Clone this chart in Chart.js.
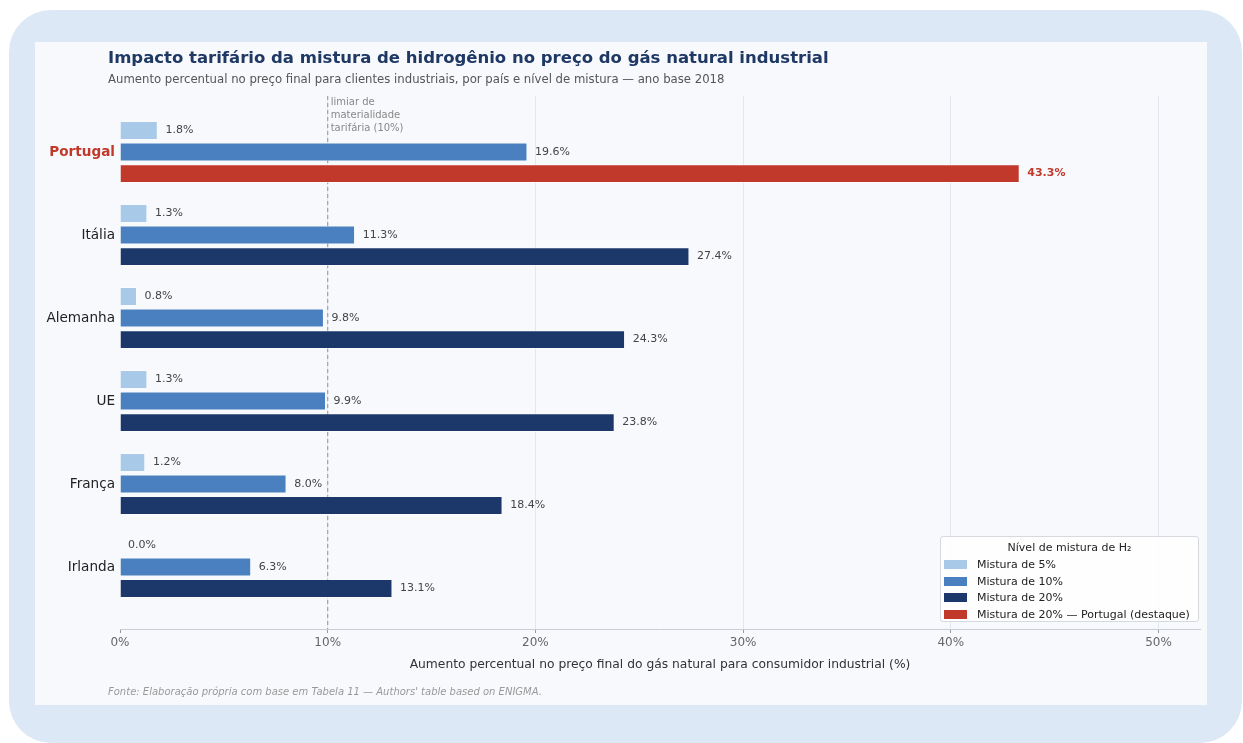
<!DOCTYPE html>
<html>
<head>
<meta charset="utf-8">
<script src="https://cdn.jsdelivr.net/npm/chart.js@4.4.1/dist/chart.umd.min.js"></script>
<style>
  html, body { margin: 0; padding: 0; background: #fff; }
  body { width: 1243px; height: 743px; position: relative; overflow: hidden; font-family: "DejaVu Sans", sans-serif; }
  .outer { position: absolute; left: 9px; top: 10px; width: 1233px; height: 733px; background: #dce8f6; border-radius: 42px; }
  .panel { position: absolute; left: 35px; top: 42px; width: 1172px; height: 663px; background: #f7f9fc; }
  #wrap { position: absolute; left: 0; top: 0; width: 1243px; height: 743px; }
  .title { position: absolute; left: 108px; top: 48px; font-size: 16.5px; font-weight: bold; color: #1f3864; white-space: nowrap; }
  .sub { position: absolute; left: 108px; top: 72px; font-size: 11.7px; color: #555; white-space: nowrap; }
  .foot { position: absolute; left: 108px; top: 686px; font-size: 10px; font-style: italic; color: #999; white-space: nowrap; }
  .legend { position: absolute; left: 940px; top: 536px; width: 259px; height: 86px; background: rgba(255,255,255,0.85); border: 1px solid #d6d9de; border-radius: 3px; font-size: 11px; color: #222; box-sizing: border-box; white-space: nowrap; }
  .legend .lt { text-align: center; margin-top: 2px; height: 17px; line-height: 17px; }
  .legend .it { height: 16.7px; display: flex; align-items: center; }
  .legend .sw { width: 23px; height: 9px; margin-left: 3px; margin-right: 10px; }
</style>
</head>
<body>
<div class="outer"></div>
<div class="panel"></div>
<div id="wrap"><canvas id="chart" width="1243" height="743"></canvas></div>
<div class="title">Impacto tarifário da mistura de hidrogênio no preço do gás natural industrial</div>
<div class="sub">Aumento percentual no preço final para clientes industriais, por país e nível de mistura — ano base 2018</div>
<div class="foot">Fonte: Elaboração própria com base em Tabela 11 — Authors' table based on ENIGMA.</div>
<div class="legend" id="legend"></div>
<script>
const countries = ['Portugal', 'Itália', 'Alemanha', 'UE', 'França', 'Irlanda'];
const mix5 = [1.8, 1.3, 0.8, 1.3, 1.2, 0.0];
const mix10 = [19.6, 11.3, 9.8, 9.9, 8.0, 6.3];
const mix20 = [43.3, 27.4, 24.3, 23.8, 18.4, 13.1];
const xTicks = [0, 10, 20, 30, 40, 50];
const threshold = 10;
const highlight = 'Portugal';

const cLight = '#a9c9e9';
const cMid = '#4a80bf';
const cDark = '#1c386a';
const cRed = '#c0392b';

const legendItems = [
  ['Mistura de 5%', cLight],
  ['Mistura de 10%', cMid],
  ['Mistura de 20%', cDark],
  ['Mistura de 20% — Portugal (destaque)', cRed]
];

function pts(arr) {
  return arr.map((v, i) => ({ x: v, y: i }));
}

let lg = document.getElementById('legend');
let html = '<div class="lt">Nível de mistura de H₂</div>';
legendItems.forEach(function (it) {
  html += '<div class="it"><span class="sw" style="background:' + it[1] + '"></span>' + it[0] + '</div>';
});
lg.innerHTML = html;

// dashed threshold line + note
const thresholdLine = {
  id: 'thresholdLine',
  beforeDatasetsDraw(chart) {
    const ctx = chart.ctx;
    const x = chart.scales.x.getPixelForValue(threshold);
    const a = chart.chartArea;
    ctx.save();
    ctx.strokeStyle = '#9aa3ad';
    ctx.lineWidth = 1.2;
    ctx.setLineDash([4, 3]);
    ctx.beginPath();
    ctx.moveTo(x, a.top);
    ctx.lineTo(x, a.bottom);
    ctx.stroke();
    ctx.setLineDash([]);
    ctx.fillStyle = '#888';
    ctx.font = '10px "DejaVu Sans"';
    ctx.textBaseline = 'middle';
    ctx.fillText('limiar de', x + 3, a.top + 6);
    ctx.fillText('materialidade', x + 3, a.top + 19);
    ctx.fillText('tarifária (10%)', x + 3, a.top + 32);
    ctx.restore();
  }
};

const valueLabels = {
  id: 'valueLabels',
  afterDatasetsDraw(chart) {
    const ctx = chart.ctx;
    ctx.save();
    ctx.textBaseline = 'middle';
    chart.data.datasets.forEach(function (ds, di) {
      chart.getDatasetMeta(di).data.forEach(function (bar, i) {
        const v = ds.data[i].x;
        const hi = di === 2 && countries[i] === highlight;
        ctx.font = (hi ? 'bold ' : '') + '11px "DejaVu Sans"';
        ctx.fillStyle = hi ? cRed : '#444';
        ctx.fillText(v.toFixed(1) + '%', bar.x + 8, bar.y);
      });
    });
    ctx.restore();
  }
};

new Chart(document.getElementById('chart'), {
  type: 'bar',
  data: {
    datasets: [
      { label: 'Mistura de 5%', data: pts(mix5), backgroundColor: cLight, borderColor: '#ffffff', borderWidth: 0.6 },
      { label: 'Mistura de 10%', data: pts(mix10), backgroundColor: cMid, borderColor: '#ffffff', borderWidth: 0.6 },
      {
        label: 'Mistura de 20%', data: pts(mix20),
        backgroundColor: countries.map(c => c === highlight ? cRed : cDark),
        borderColor: '#ffffff', borderWidth: 0.6
      }
    ]
  },
  options: {
    indexAxis: 'y',
    responsive: false,
    animation: false,
    categoryPercentage: 0.78,
    barPercentage: 0.84,
    layout: { padding: { left: 0, right: 43, top: 96, bottom: 67 } },
    plugins: {
      legend: { display: false },
      tooltip: { enabled: false }
    },
    scales: {
      x: {
        type: 'linear',
        min: 0,
        max: 52,
        afterBuildTicks(scale) {
          scale.ticks = xTicks.map(v => ({ value: v }));
        },
        afterFit(scale) { scale.height = 47; },
        border: { display: true, color: '#c8ccd4', width: 1 },
        grid: {
          color: ctx => ctx.tick && ctx.tick.value === 0 ? 'rgba(0,0,0,0)' : '#e3e7ee',
          tickColor: '#999',
          tickLength: 4
        },
        ticks: {
          padding: 3,
          color: '#666',
          font: { family: 'DejaVu Sans', size: 12 },
          callback: v => v + '%'
        },
        title: {
          display: true,
          text: 'Aumento percentual no preço final do gás natural para consumidor industrial (%)',
          color: '#333',
          font: { family: 'DejaVu Sans', size: 12.3 },
          padding: { top: 4, bottom: 4 }
        }
      },
      y: {
        type: 'linear',
        reverse: true,
        offset: false,
        bounds: 'data',
        min: -0.675,
        max: 5.747,
        afterBuildTicks(scale) {
          scale.ticks = countries.map((c, i) => ({ value: i }));
        },
        afterFit(scale) { scale.width = 120; },
        border: { display: false },
        grid: { display: false, drawTicks: false },
        ticks: {
          padding: 5,
          callback: v => countries[v],
          color: ctx => countries[ctx.index] === highlight ? cRed : '#222',
          font: ctx => ({
            family: 'DejaVu Sans',
            size: 13.6,
            weight: countries[ctx.index] === highlight ? 'bold' : 'normal'
          })
        }
      }
    }
  },
  plugins: [thresholdLine, valueLabels]
});
</script>
</body>
</html>
